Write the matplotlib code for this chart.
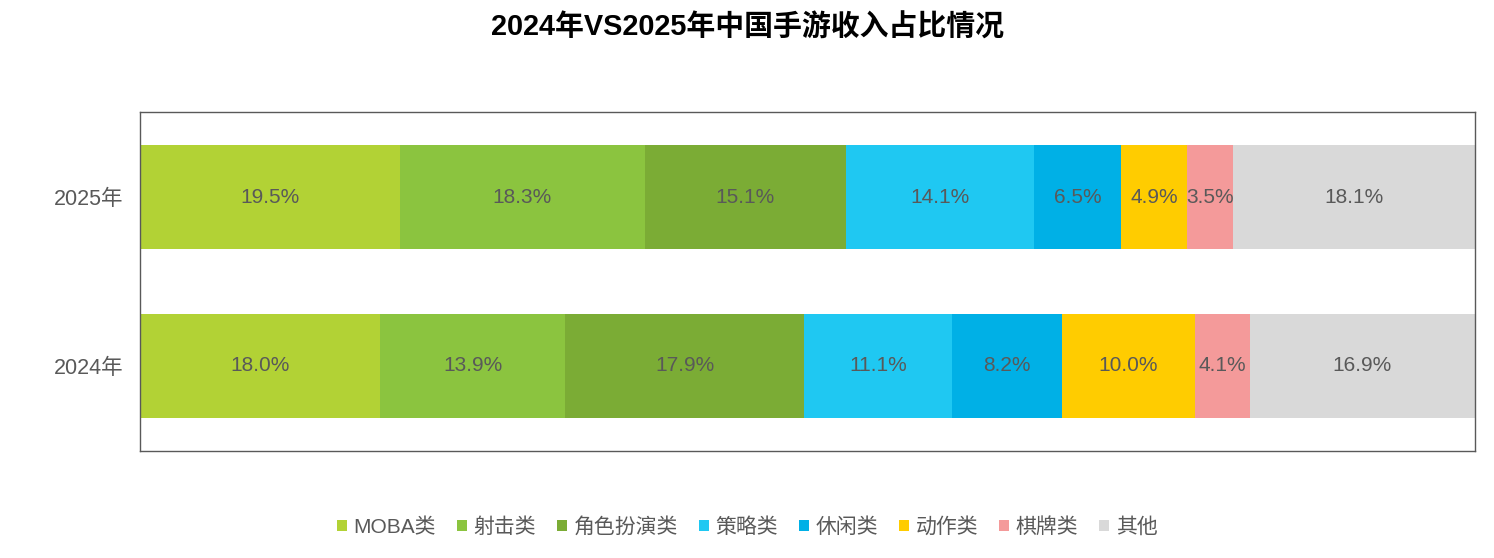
import numpy as np
import matplotlib
matplotlib.use('Agg')
import matplotlib.pyplot as plt

plt.rcParams['font.family'] = ['Liberation Sans', 'Noto Sans CJK SC', 'DejaVu Sans']

years = ['2024年', '2025年']
categories = ['MOBA类', '射击类', '角色扮演类', '策略类', '休闲类', '动作类', '棋牌类', '其他']
share_2024 = [18.0, 13.9, 17.9, 11.1, 8.2, 10.0, 4.1, 16.9]
share_2025 = [19.5, 18.3, 15.1, 14.1, 6.5, 4.9, 3.5, 18.1]
colors = ['#B2D235', '#8BC43F', '#7BAC35', '#1FC8F2', '#00B0E6', '#FFCC00', '#F49A9A', '#D9D9D9']

text_color = '#595959'

fig = plt.figure(figsize=(14.94, 5.58), dpi=100)
ax = fig.add_axes([140 / 1494, 107 / 558, 1335 / 1494, 339 / 558])

values = np.array([share_2024, share_2025])
# 100% stacked: each row is scaled to its own total
widths = values / values.sum(axis=1, keepdims=True) * 100
y = np.arange(len(years))
left = np.zeros(len(years))
for i, cat in enumerate(categories):
    bars = ax.barh(y, widths[:, i], left=left, height=0.615,
                   color=colors[i], label=cat, linewidth=0)
    ax.bar_label(bars, labels=['%.1f%%' % v for v in values[:, i]],
                 label_type='center', color=text_color, fontsize=15)
    left += widths[:, i]

ax.set_xlim(0, 100)
ax.set_ylim(-0.503, 1.503)
ax.set_xticks([])
ax.set_yticks(y)
ax.set_yticklabels(years, fontsize=15.5, color=text_color)
ax.tick_params(axis='y', length=0, pad=12)
for spine in ax.spines.values():
    spine.set_color('#595959')
    spine.set_linewidth(1)

fig.suptitle('2024年VS2025年中国手游收入占比情况', x=0.5, y=1 - 28 / 558,
             va='center', fontsize=20.8, fontweight='bold', color='black')

fig.legend(loc='center', bbox_to_anchor=(0.5, 1 - 527 / 558), ncol=8,
           frameon=False, fontsize=15, labelcolor=text_color,
           handlelength=0.5, handleheight=0.5, handletextpad=0.3,
           columnspacing=1.0)

fig.savefig('out.png', dpi=100)
